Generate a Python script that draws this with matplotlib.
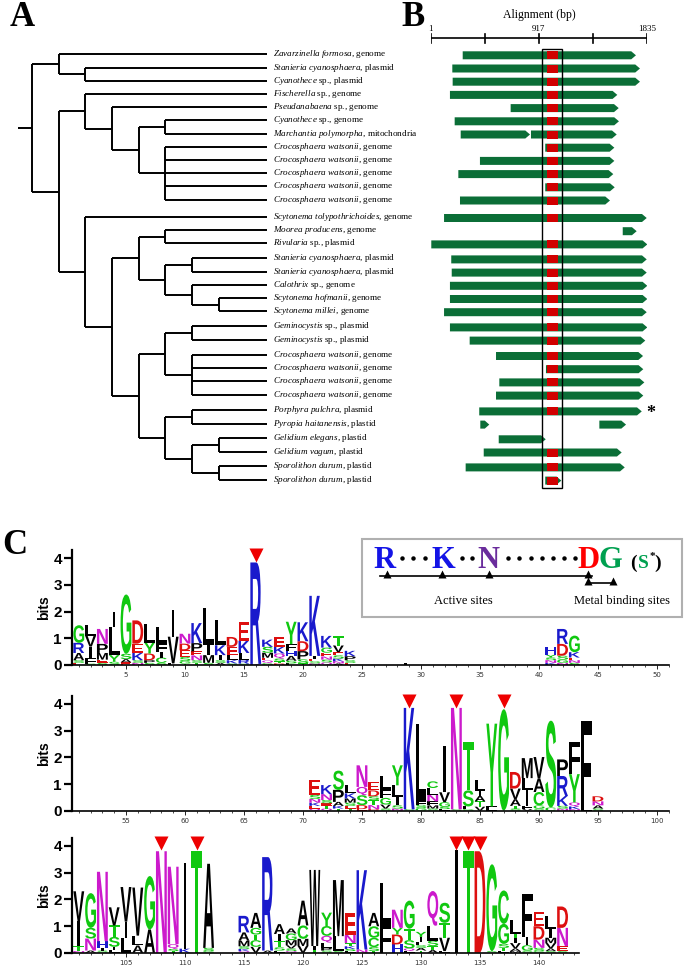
import numpy as np
import matplotlib
matplotlib.use('Agg')
import matplotlib.pyplot as plt
from matplotlib.patches import Polygon, Rectangle, PathPatch
from matplotlib.textpath import TextPath
from matplotlib.font_manager import FontProperties
from matplotlib.transforms import Affine2D

plt.rcParams['mathtext.fontset'] = 'custom'
plt.rcParams['mathtext.rm'] = 'Liberation Serif'
plt.rcParams['mathtext.it'] = 'Liberation Serif:italic'

# ---------------- data: tree leaves (top to bottom) ----------------
leaf_taxa = ["Zavarzinella formosa", "Stanieria cyanosphaera", "Cyanothece",
             "Fischerella", "Pseudanabaena", "Cyanothece", "Marchantia polymorpha",
             "Crocosphaera watsonii", "Crocosphaera watsonii", "Crocosphaera watsonii",
             "Crocosphaera watsonii", "Crocosphaera watsonii",
             "Scytonema tolypothrichoides", "Moorea producens", "Rivularia",
             "Stanieria cyanosphaera", "Stanieria cyanosphaera", "Calothrix",
             "Scytonema hofmanii", "Scytonema millei", "Geminocystis", "Geminocystis",
             "Crocosphaera watsonii", "Crocosphaera watsonii", "Crocosphaera watsonii",
             "Crocosphaera watsonii", "Porphyra pulchra", "Pyropia haitanensis",
             "Gelidium elegans", "Gelidium vagum", "Sporolithon durum", "Sporolithon durum"]
leaf_source = [", genome", ", plasmid", " sp., plasmid",
               " sp., genome", " sp., genome", " sp., genome", ", mitochondria",
               ", genome", ", genome", ", genome", ", genome", ", genome",
               ", genome", ", genome", " sp., plasmid",
               ", plasmid", ", plasmid", " sp., genome", ", genome", ", genome",
               " sp., plasmid", " sp., plasmid",
               ", genome", ", genome", ", genome", ", genome",
               ", plasmid", ", plastid", ", plastid", ", plastid", ", plastid", ", plastid"]

# topology (cladogram) using leaf indices
tree = ((0, (1, 2)),
        ((3, (4, ((5, 6), (7, 8, 9, 10, 11)))),
         (12, (((13, 14), ((15, 16), (17, (18, 19)))),
               (((20, 21), (22, 23, 24, 25)), ((26, 27), ((28, 29), (30, 31))))))))

# gene segments along the alignment (bp) for each leaf
gene_segments = [
    [(272, 1739)], [(184, 1773)], [(187, 1773)], [(164, 1581)], [(678, 1593)],
    [(204, 1595)], [(255, 842), (850, 1576)], [(971, 1556)], [(418, 1556)],
    [(235, 1547)], [(971, 1559)], [(249, 1519)], [(114, 1830)], [(1627, 1745)],
    [(6, 1835)], [(175, 1830)], [(179, 1830)], [(164, 1835)], [(164, 1835)],
    [(114, 1830)], [(164, 1835)], [(331, 1818)], [(554, 1799)], [(977, 1801)],
    [(582, 1810)], [(554, 1801)], [(412, 1788)], [(421, 497), (1429, 1655)],
    [(577, 975)], [(450, 1618)], [(297, 1644)], [(971, 1107)]]
site_region = (982, 1076)
box_region = (946, 1113)
align_ticks = [1, 459, 917, 1376, 1835]
align_labels = ["1", "", "917", "", "1835"]

# ---------------- data: sequence logo columns (top -> bottom, bits) ----------------
logo1 = {
    1: "G .66 R .38 A .27 S .1 E .08", 2: "L .41 V .4 I .44 F .2 S .05",
    3: "N .56 P .34 M .25 E .12 S .08", 4: "I .56 L 1.06 Y .25 S .12",
    5: "G 2.22 S .2 A .12 E .1", 6: "D .87 E .35 K .27 S .1 N .08",
    7: "L .69 Y .41 D .25 P .1 S .08", 8: "L .62 F .34 I .2 C .2 S .08",
    9: "I 1.0 V 1.0 L .06", 10: "N .37 D .25 E .25 S .15 G .1 T .05",
    11: "K .75 P .31 E .15 N .18 S .1 T .08", 12: "L 1.41 I .37 M .29 S .08",
    13: "L .94 K .37 I .19 S .1 A .08", 14: "D .37 E .31 L .19 K .12 S .06",
    15: "E .69 K .46 L .25 R .15 S .05", 16: "R 3.8 K .04",
    17: "K .27 S .22 M .19 E .1 Q .1 G .07", 18: "E .37 K .25 Q .19 S .1 T .08 D .06",
    19: "Y .84 F .25 H .19 A .18 S .1 L .06", 20: "K .71 D .37 P .31 S .15 T .06",
    21: "K 2.25 I .12 E .08 S .08 N .06", 22: "K .44 G .19 E .14 N .12 S .1 Q .1",
    23: "T .34 V .25 E .12 S .12 K .1 N .08 A .06", 24: "K .2 P .15 S .1 E .08",
    29: "L .06", 41: "H .3 Y .1 S .1 N .1 K .08", 42: "R .56 D .44 S .15 G .12 N .08",
    43: "G .62 K .2 E .1 N .1 S .08"}
logo2 = {
    71: "E .56 S .15 N .14 K .12 E .1 Q .08", 72: "K .34 N .22 S .12 E .1 T .1 Q .08",
    73: "S .72 P .45 A .15 K .1 T .08", 74: "L .31 K .19 M .16 S .12 E .1 T .08",
    75: "N .81 Q .31 S .37 D .15 E .06", 76: "E .31 D .22 S .14 T .19 N .15 D .06",
    77: "L .5 F .31 G .25 V .15 S .08", 78: "Y .75 L .44 I .31 S .12 N .08",
    79: "K 3.8 S .05", 80: "L 2.9 F .12 S .12 G .1",
    81: "C .25 L .25 N .25 F .15 M .12 S .08", 82: "I 1.75 V .37 G .18 S .08 L .06",
    83: "N 3.8 S .05", 84: "T 1.8 S .6 L .1 G .06", 85: "L .4 I .2 A .2 T .2 V .15",
    86: "Y 3.1 F .1 L .06", 87: "G 3.8", 88: "D .62 V .4 A .25 T .1 S .08",
    89: "M .75 L .44 I .6 F .12 V .06", 90: "V .81 A .5 C .5 G .12 S .08",
    91: "S 3.25 C .12", 92: "P .62 R .75 K .37 S .1 N .08",
    93: "F 1.19 Y 1.06 Q .15 K .1 N .06", 94: "F 3.3 L .06", 95: "D .19 N .15 A .12 S .08"}
logo3 = {
    101: "V 1.12 I .93 T .19 N .06", 102: "G 1.3 S .4 N .45 A .08",
    103: "N 2.6 H .25 I .1 S .08", 104: "V .68 T .43 S .37 I .12 L .1",
    105: "V 1.3 I .6 L .56", 106: "V 1.8 L .37 A .27", 107: "G 2.0 A .87",
    108: "N 3.8", 109: "N 2.9 Q .18 S .08 T .06", 110: "I 3.2 K .15", 111: "T 3.8",
    112: "A 3.15 S .12 G .06", 115: "R .62 A .31 M .21 S .1 K .08 Q .06",
    116: "A .56 G .25 T .21 C .25 V .22", 117: "R 3.5 A .08",
    118: "A .37 I .25 T .25 S .12 L .08", 119: "A .19 G .25 M .19 V .12 S .1 Q .06",
    120: "A .93 C .5 M .27 V .25", 121: "W 2.85 I .15 T .1",
    122: "Y .5 C .37 Q .25 L .2 P .1 S .08", 123: "M 2.1 L .56 S .06",
    124: "E .8 N .31 T .12 K .1 S .08 L .06", 125: "K 2.97 N .12",
    126: "A .5 G .43 C .35 S .15 T .06", 127: "L 1.55 F 1.05",
    128: "N .68 Y .25 D .37 H .31", 129: "G 1.05 T .43 S .31 Q .1 L .06",
    130: "Y .19 I .19 L .12 S .1 A .1 T .08", 131: "Q 1.3 L .56 S .2 T .15 A .1",
    132: "S .75 T .56 V .5 L .06", 133: "I 3.85", 134: "T 3.8", 135: "D 3.8",
    136: "G 3.25 S .06", 137: "C 1.25 G .75 S .15 T .1 L .08",
    138: "L .5 T .15 I .2 V .2 A .1 M .06", 139: "F 1.6 I .31 G .2 S .08",
    140: "E .55 D .5 N .31 S .12 G .06", 141: "L .5 I .31 M .2 V .2 A .1 S .06",
    142: "D .8 N .68 E .19 S .06"}
marks1 = [16]
marks2 = [79, 83, 87]
marks3 = [108, 111, 133, 134, 135]

aa_groups = {"GSTYC": "#10c810", "QN": "#cc1acc", "KRH": "#1a1acc",
             "DE": "#dd1010", "AVLIPWFM": "black"}
aa_color = {a: c for grp, c in aa_groups.items() for a in grp}

W, H = 685, 969
fig = plt.figure(figsize=(W / 100, H / 100), dpi=100)

# ---------------- panel C: sequence logos ----------------
lfont = FontProperties(family='Liberation Sans', weight='bold')
glyphs = {}


def glyph(c):
    if c not in glyphs:
        glyphs[c] = TextPath((0, 0), c, size=1, prop=lfont)
    return glyphs[c]


def draw_logo(ax, cols):
    for pos, stack in cols.items():
        items = stack.split()
        letters = list(zip(items[::2], [float(v) for v in items[1::2]]))
        y = 0.0
        for c, h in reversed(letters):
            p = glyph(c)
            bb = p.get_extents()
            w = 0.22 if c == 'I' else 0.92
            tr = Affine2D().translate(-bb.x0, -bb.y0).scale(w / bb.width, h / bb.height)
            tr = tr.translate(pos - w / 2, y)
            ax.add_patch(PathPatch(tr.transform_path(p), fc=aa_color[c], ec='none', lw=0))
            y += h


px_per_pos = 11.8
px_per_bit = 26.7
ymax = 4.3
logo_specs = [(logo1, marks1, 0.4, 51.0, 665.0, range(5, 51, 5)),
              (logo2, marks2, 50.4, 101.0, 810.7, range(55, 101, 5)),
              (logo3, marks3, 100.4, 143.4, 952.7, range(105, 141, 5))]
for cols, marks, x0, x1, base, majors in logo_specs:
    axl = fig.add_axes([71.7 / W, 1 - base / H, (x1 - x0) * px_per_pos / W,
                        ymax * px_per_bit / H])
    axl.set_xlim(x0, x1)
    axl.set_ylim(0, ymax)
    draw_logo(axl, cols)
    axl.plot(marks, [4.12] * len(marks), 'v', color='#ee0000', ms=10,
             clip_on=False, mec='none')
    for s in ['top', 'right']:
        axl.spines[s].set_visible(False)
    axl.spines['left'].set_linewidth(1.6)
    axl.spines['bottom'].set_linewidth(1.2)
    axl.set_yticks([0, 1, 2, 3, 4])
    axl.set_yticklabels(['0', '1', '2', '3', '4'], fontsize=11, fontweight='bold',
                        family='Liberation Sans')
    axl.tick_params(axis='y', length=6, width=1.6, pad=1)
    axl.set_xticks(list(majors))
    axl.set_xticks(np.arange(int(np.ceil(x0)), int(x1) + 1), minor=True)
    axl.tick_params(axis='x', which='major', length=3, width=0.6, labelsize=5,
                    labelcolor='#333333', pad=2)
    axl.tick_params(axis='x', which='minor', length=1.5, width=0.5)
    axl.set_ylabel('bits', fontsize=10, fontweight='bold', family='Liberation Sans',
                   labelpad=2)

# ---------------- panels A and B (pixel coordinates) ----------------
ax = fig.add_axes([0, 0, 1, 1])
ax.set_xlim(0, W)
ax.set_ylim(H, 0)
ax.axis('off')

gap_after = {11: 4.3, 14: 1.8, 19: 2.0, 21: 2.2, 25: 2.6, 27: 1.5, 29: 1.7}
leaf_y = [54.3 + 13.2 * i + sum(g for k, g in gap_after.items() if i > k)
          for i in range(len(leaf_taxa))]
root_x, level_step, leaf_x = 32.0, 26.7, 267.0
tree_kw = dict(color='black', lw=1.4, solid_capstyle='butt')


def draw_clade(node, depth):
    if isinstance(node, int):
        return leaf_x, leaf_y[node]
    x = root_x + depth * level_step
    kids = [draw_clade(c, depth + 1) for c in node]
    y_top, y_bot = kids[0][1], kids[-1][1]
    ax.plot([x, x], [y_top, y_bot], **tree_kw)
    for kx, ky in kids:
        ax.plot([x, kx], [ky, ky], **tree_kw)
    return x, (y_top + y_bot) / 2


rx, ry = draw_clade(tree, 0)
ax.plot([18, rx], [ry, ry], **tree_kw)

for taxon, src, y in zip(leaf_taxa, leaf_source, leaf_y):
    it = taxon.replace(' ', r'\ ')
    ax.text(273, y, r'$\mathit{' + it + '}$' + src, fontsize=6.6,
            family='Liberation Serif', va='center', ha='left')

# panel B axes: x in bp, y in pixels
axb = fig.add_axes([430.7 / W, 0, 216.6 / W, 1])
axb.set_xlim(1, 1835)
axb.set_ylim(H, 0)
axb.axis('off')
green, red = '#0b6e37', '#d00000'
hh = 4.0
for segs, y in zip(gene_segments, leaf_y):
    yc = y + 1.0
    for s, e in segs:
        tip = min(40, (e - s) * 0.5)
        axb.add_patch(Polygon([(s, yc - hh), (e - tip, yc - hh), (e, yc),
                               (e - tip, yc + hh), (s, yc + hh)],
                              closed=True, fc=green, ec='none'))
        r0, r1 = max(s, site_region[0]), min(e, site_region[1])
        if r1 > r0:
            axb.add_patch(Rectangle((r0, yc - hh), r1 - r0, 2 * hh, fc=red, ec='none'))
axb.add_patch(Rectangle((box_region[0], 49.3), box_region[1] - box_region[0],
                        487.7 - 49.3, fill=False, ec='black', lw=1.0))
axb.plot([1, 1835], [38.3, 38.3], color='black', lw=1.2)
for t, lab in zip(align_ticks, align_labels):
    axb.plot([t, t], [33.5, 43], color='black', lw=1.2)
    if lab:
        axb.text(t, 30.5, lab, fontsize=6.5, family='Liberation Serif',
                 ha='center', va='baseline')
axb.text(917, 18, 'Alignment (bp)', fontsize=8.5, family='Liberation Serif',
         ha='center', va='baseline')
axb.text(1866, 414, '*', fontsize=13, ha='center', va='center',
         family='Liberation Serif', fontweight='bold')

# panel labels
for lab, x, y in [('A', 10, 26), ('B', 401, 26), ('C', 2, 554)]:
    ax.text(x, y, lab, fontsize=25, fontweight='bold', family='Liberation Serif',
            ha='left', va='baseline')

# ---------------- inset: conserved motif ----------------
ax.add_patch(Rectangle((361.7, 539), 320, 77.7, fc='white', ec='#b0b0b0', lw=1.5,
                       zorder=3))
motif = [('R', 385, '#1414e6'), ('K', 443.3, '#1414e6'), ('N', 488.3, '#6a2c9c'),
         ('D', 588.3, '#ff0000'), ('G', 610, '#00a050')]
for ch, x, c in motif:
    ax.text(x, 568.3, ch, fontsize=22, fontweight='bold', color=c,
            family='Liberation Serif', ha='center', va='baseline', zorder=4)
ax.text(630, 568.3, '(', fontsize=14, fontweight='bold', family='Liberation Serif',
        ha='left', va='baseline', zorder=4)
ax.text(643, 568.3, 'S', fontsize=14, fontweight='bold', color='#00a050',
        family='Liberation Serif', ha='center', va='baseline', zorder=4)
ax.text(649.5, 559, '*', fontsize=8, fontweight='bold', family='Liberation Serif',
        ha='left', va='baseline', zorder=4)
ax.text(661, 568.3, ')', fontsize=14, fontweight='bold', family='Liberation Serif',
        ha='right', va='baseline', zorder=4)
dots_x = list(np.linspace(401.7, 425, 3)) + [461.7, 471.7] + list(np.linspace(508.3, 575, 7))
ax.plot(dots_x, [558.3] * len(dots_x), 'o', color='black', ms=2.2, zorder=4)
ax.plot([380, 591.7], [576, 576], color='black', lw=1.2, zorder=4)
ax.plot([386.7, 442.3, 489, 588.3], [573.5] * 4, '^', color='black', ms=6,
        mec='none', zorder=5)
ax.plot([588.3, 588.3, 613.3, 613.3], [584, 582.5, 582.5, 584], color='black', lw=1.2,
        zorder=4)
ax.plot([588.3, 613.3], [581.3, 581.3], '^', color='black', ms=6, mec='none', zorder=5)
ax.text(463.3, 604, 'Active sites', fontsize=9, family='Liberation Serif',
        ha='center', va='baseline', zorder=4)
ax.text(621.7, 604, 'Metal binding sites', fontsize=9, family='Liberation Serif',
        ha='center', va='baseline', zorder=4)

fig.savefig('out.png', dpi=100)
